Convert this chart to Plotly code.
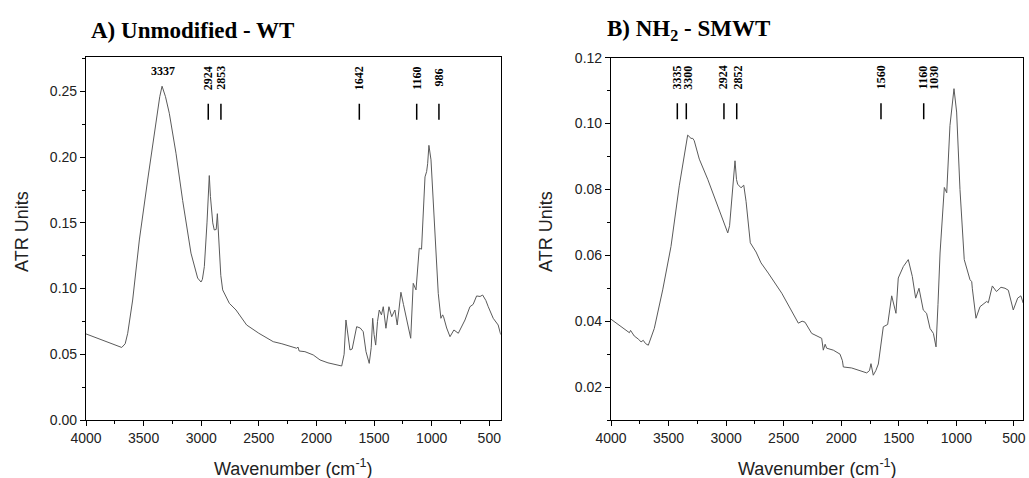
import plotly.graph_objects as go

# ---------------- data ----------------
wt_wn = [4000, 3826, 3711, 3690, 3660, 3638, 3595, 3537, 3465, 3393, 3360, 3340, 3310, 3277,
         3219, 3161, 3089, 3031, 3010, 3002, 2990, 2973, 2950, 2935, 2930, 2920, 2900, 2887,
         2870, 2860, 2855, 2843, 2830, 2814, 2756, 2698, 2606, 2500, 2375, 2300, 2172, 2160,
         2150, 2100, 2028, 1969, 1900, 1781, 1760, 1744, 1730, 1709, 1690, 1651, 1620, 1594,
         1570, 1542, 1525, 1512, 1500, 1486, 1470, 1455, 1436, 1420, 1397, 1371, 1347, 1319,
         1299, 1267, 1245, 1223, 1182, 1160, 1136, 1108, 1088, 1058, 1044, 1035, 1024, 1006,
         990, 972, 943, 920, 905, 897, 870, 841, 807, 769, 711, 668, 640, 610, 580, 558, 530,
         509, 466, 423, 401]
wt_atr = [0.0655, 0.0596, 0.0558, 0.0552, 0.058, 0.066, 0.0913, 0.137, 0.1826, 0.228, 0.246,
          0.254, 0.246, 0.2334, 0.203, 0.167, 0.127, 0.108, 0.1055, 0.105, 0.107, 0.1167, 0.150,
          0.183, 0.186, 0.170, 0.150, 0.1446, 0.145, 0.157, 0.150, 0.132, 0.110, 0.099, 0.0888,
          0.0837, 0.0723, 0.066, 0.0596, 0.058, 0.0546, 0.0555, 0.0525, 0.052, 0.0495, 0.0457,
          0.0435, 0.0411, 0.050, 0.0761, 0.065, 0.0533, 0.054, 0.071, 0.070, 0.0672, 0.052,
          0.0431, 0.055, 0.0774, 0.065, 0.057, 0.075, 0.0837, 0.080, 0.0862, 0.0698, 0.0862,
          0.0786, 0.0837, 0.0723, 0.0972, 0.088, 0.0786, 0.0622, 0.104, 0.099, 0.1307, 0.130,
          0.185, 0.189, 0.195, 0.209, 0.198, 0.170, 0.1446, 0.0964, 0.0774, 0.080, 0.0786,
          0.070, 0.0634, 0.0685, 0.066, 0.0761, 0.0862, 0.088, 0.0944, 0.094, 0.0951, 0.091,
          0.0862, 0.0774, 0.0723, 0.065]

sm_wn = [4000, 3884, 3840, 3830, 3798, 3760, 3739, 3720, 3700, 3676, 3624, 3551, 3479, 3407,
         3357, 3334, 3305, 3290, 3277, 3233, 3160, 3088, 3030, 2995, 2986, 2970, 2957, 2935,
         2923, 2910, 2900, 2871, 2847, 2827, 2790, 2740, 2697, 2634, 2517, 2373, 2340, 2315,
         2257, 2170, 2156, 2140, 2127, 2069, 2011, 1990, 1982, 1910, 1779, 1755, 1742, 1722,
         1700, 1678, 1635, 1597, 1562, 1525, 1505, 1461, 1418, 1383, 1354, 1325, 1288, 1259,
         1229, 1200, 1177, 1160, 1142, 1105, 1084, 1056, 1021, 998, 969, 932, 882, 867, 862,
         830, 795, 737, 723, 688, 652, 613, 578, 549, 506, 468, 440, 420]
sm_atr = [0.0406, 0.0378, 0.0365, 0.0372, 0.0355, 0.0345, 0.0337, 0.0342, 0.0332, 0.0327,
          0.0378, 0.0495, 0.0627, 0.0811, 0.0913, 0.0965, 0.0955, 0.0955, 0.0948, 0.0892,
          0.0831, 0.0765, 0.0709, 0.068, 0.0668, 0.069, 0.0745, 0.085, 0.0887, 0.083, 0.0816,
          0.0805, 0.0813, 0.0764, 0.0638, 0.061, 0.0577, 0.0546, 0.0485, 0.0394, 0.040, 0.0397,
          0.0363, 0.0348, 0.0312, 0.033, 0.0318, 0.0312, 0.030, 0.028, 0.0261, 0.0258, 0.0243,
          0.025, 0.0271, 0.0236, 0.025, 0.027, 0.0383, 0.039, 0.0477, 0.0424, 0.0531, 0.0566,
          0.0587, 0.0536, 0.047, 0.050, 0.0434, 0.0424, 0.0378, 0.0363, 0.0322, 0.045, 0.0607,
          0.0806, 0.079, 0.0994, 0.1106, 0.1035, 0.080, 0.0587, 0.0526, 0.052, 0.050, 0.0409,
          0.0444, 0.046, 0.0456, 0.0507, 0.049, 0.0503, 0.050, 0.0494, 0.0434, 0.047, 0.0477,
          0.0455]

# peak labels (text) and where they sit on the wavenumber axis
wt_labels = ["2924", "2853", "1642", "1160", "986"]
wt_label_x = [2940, 2832, 1630, 1130, 932]
wt_mark_x = [2939, 2829, 1628, 1130, 937]
wt_main_label = "3337"
wt_main_label_x = 3332

sm_labels = ["3335", "3300", "2924", "2852", "1560", "1160", "1030"]
sm_label_x = [3427, 3329, 3021, 2897, 1649, 1284, 1192]
sm_mark_x = [3424, 3346, 3019, 2908, 1655, 1284]

# ---------------- figure ----------------
W, H = 1029, 478
fig = go.Figure()
line_col = "#5a5a5a"
fig.add_trace(go.Scatter(x=wt_wn, y=wt_atr, mode="lines", line=dict(color=line_col, width=1),
                         xaxis="x", yaxis="y", showlegend=False, hoverinfo="skip"))
fig.add_trace(go.Scatter(x=sm_wn, y=sm_atr, mode="lines", line=dict(color=line_col, width=1),
                         xaxis="x2", yaxis="y2", showlegend=False, hoverinfo="skip"))


def seg(xs, y0, y1):
    X, Y = [], []
    for v in xs:
        X += [v, v, None]
        Y += [y0, y1, None]
    return X, Y


X, Y = seg(wt_mark_x, 0.2285, 0.2406)
fig.add_trace(go.Scatter(x=X, y=Y, mode="lines", line=dict(color="black", width=1.5),
                         xaxis="x", yaxis="y", showlegend=False, hoverinfo="skip"))
X, Y = seg(sm_mark_x, 0.1013, 0.1062)
fig.add_trace(go.Scatter(x=X, y=Y, mode="lines", line=dict(color="black", width=1.5),
                         xaxis="x2", yaxis="y2", showlegend=False, hoverinfo="skip"))

lab_font = dict(family="Liberation Serif, Times New Roman, serif", size=12, color="black")
ann = []
ann.append(dict(x=wt_main_label_x, y=0.2657, xref="x", yref="y", text="<b>%s</b>" % wt_main_label,
                showarrow=False, font=lab_font, xanchor="center", yanchor="middle"))
for t, xv in zip(wt_labels, wt_label_x):
    ann.append(dict(x=xv, y=0.2602, xref="x", yref="y", text="<b>%s</b>" % t, textangle=-90,
                    showarrow=False, font=lab_font, xanchor="center", yanchor="middle"))
for t, xv in zip(sm_labels, sm_label_x):
    ann.append(dict(x=xv, y=0.1140, xref="x2", yref="y2", text="<b>%s</b>" % t, textangle=-90,
                    showarrow=False, font=lab_font, xanchor="center", yanchor="middle"))

title_font = dict(family="Liberation Serif, Times New Roman, serif", size=23, color="black")
ann.append(dict(x=89 / W, y=1 - 30 / H, xref="paper", yref="paper",
                text="<b>A) Unmodified - WT</b>",
                showarrow=False, font=title_font, xanchor="left", yanchor="middle"))
ann.append(dict(x=605 / W, y=1 - 30 / H, xref="paper", yref="paper",
                text="<b>B) NH<sub>2</sub> - SMWT</b>",
                showarrow=False, font=title_font, xanchor="left", yanchor="middle"))

# axis titles as paper annotations for exact placement
ax_title_font = dict(family="Arial, Liberation Sans, sans-serif", size=18, color="#222")
for cx in (293, 817):
    ann.append(dict(x=cx / W, y=1 - 467 / H, xref="paper", yref="paper",
                    text="Wavenumber (cm<sup>-1</sup>)", showarrow=False, font=ax_title_font,
                    xanchor="center", yanchor="middle"))
for cx in (22, 546):
    ann.append(dict(x=cx / W, y=1 - 232 / H, xref="paper", yref="paper", text="ATR Units",
                    textangle=-90, showarrow=False, font=ax_title_font,
                    xanchor="center", yanchor="middle"))

axis_font = dict(family="Arial, Liberation Sans, sans-serif", size=14, color="#222")

common_x = dict(autorange=False, automargin=False, showgrid=False, zeroline=False, showline=True,
                linecolor="black", linewidth=1.2, mirror=True, ticks="outside", ticklen=5,
                tickcolor="black", tickwidth=1, dtick=500, tick0=0, tickfont=axis_font,
                minor=dict(dtick=250, ticks="outside", ticklen=3, tickcolor="black"))
common_y = dict(autorange=False, automargin=False, showgrid=False, zeroline=False, showline=True,
                linecolor="black", linewidth=1.2, mirror=True, ticks="outside", ticklen=5,
                tickcolor="black", tickwidth=1, tickformat=".2f", tickfont=axis_font)

fig.update_layout(
    width=W, height=H, margin=dict(l=0, r=0, t=0, b=0, autoexpand=False),
    paper_bgcolor="white", plot_bgcolor="white",
    xaxis=dict(common_x, domain=[86 / W, 500.7 / W], range=[4000, 401], anchor="y"),
    yaxis=dict(common_y, domain=[1 - 420 / H, 1 - 57.3 / H], range=[0, 0.276], dtick=0.05,
               tick0=0, minor=dict(dtick=0.025, ticks="outside", ticklen=3, tickcolor="black"),
               anchor="x"),
    xaxis2=dict(common_x, domain=[611 / W, 1023.3 / W], range=[4000, 419], anchor="y2"),
    yaxis2=dict(common_y, domain=[1 - 420 / H, 1 - 57.7 / H], range=[0.01, 0.12], dtick=0.02,
                tick0=0, minor=dict(dtick=0.01, ticks="outside", ticklen=3, tickcolor="black"),
                anchor="x2"),
    annotations=ann,
)

fig.write_html("out.html", config={"displayModeBar": False},
               post_script="document.body.style.margin='0';document.body.style.overflow='hidden';")
